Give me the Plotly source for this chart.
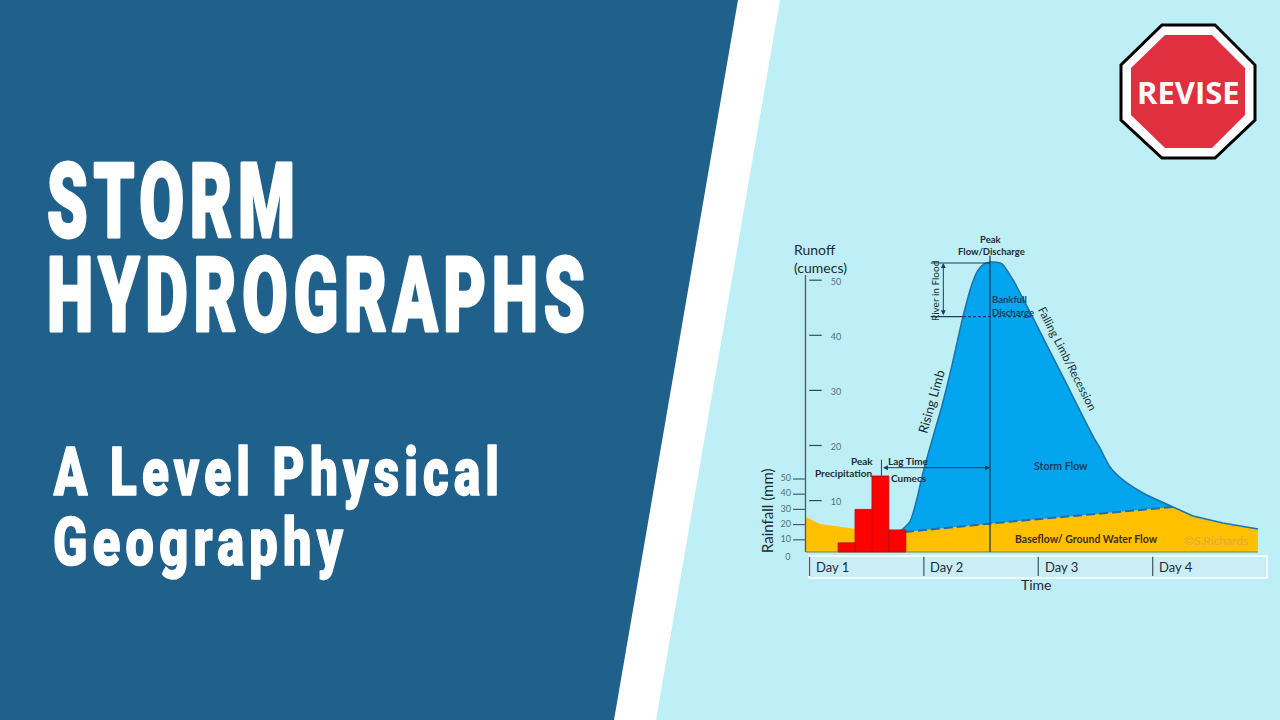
import plotly.graph_objects as go

# ---- data (time in days, runoff in cumecs, rainfall in mm) ----
storm_days = [0.806, 0.878, 0.937, 0.992, 1.097, 1.156, 1.243, 1.342, 1.418, 1.470, 1.530, 1.600, 1.680,
              1.779, 1.954, 2.225, 2.496, 2.539, 2.627, 2.740, 2.915, 3.178]
storm_flow = [4.66, 6.17, 10.11, 15.01, 22.81, 27.04, 34.30, 43.38, 49.13, 51.7, 53.0, 53.3, 53.0,
              50.04, 43.14, 32.07, 21.0, 19.55, 16.10, 13.74, 11.38, 8.84]
base_days = [-0.031, 0.092, 0.407, 0.835, 1.578, 1.753, 3.178, 3.352, 3.614, 3.92]
base_flow = [7.02, 5.75, 4.85, 4.30, 5.80, 6.17, 8.84, 7.2, 5.93, 4.85]
sep_days = [0.835, 1.578, 1.753, 3.178]
sep_flow = [4.30, 5.80, 6.17, 8.84]
rain_days = [0.324, 0.472, 0.620, 0.768]
rain_mm = [8, 30, 52, 16.5]
runoff_ticks = [10, 20, 30, 40, 50]
rain_ticks = [10, 20, 30, 40, 50]
day_starts = [0, 1, 2, 3]
day_labels = ["Day 1", "Day 2", "Day 3", "Day 4"]

W, H = 1280, 720
BLUE, LIGHT = "#20618C", "#BFEFF6"
NAVY, AXIS = "#17405F", "#44606E"
FONT = "Lato"
FLOOR = 0.67          # cumecs level of the chart's ground line
RAIN_FLOOR = 2.0


def px(x):
    return x / W


def py(y):
    return 1 - y / H


def poly(points):
    return "M" + " L".join(f"{px(a):.5f},{py(b):.5f}" for a, b in points) + " Z"


def shape_poly(points, fill, line=None, lw=0):
    return dict(type="path", xref="paper", yref="paper", path=poly(points), fillcolor=fill,
                line=dict(color=line or fill, width=lw), layer="below")


def label(text, x, y, size, color="#1C2B33", angle=0, anchor="center", bold=False, font=FONT, weight=None):
    f = dict(family=font, size=size, color=color)
    if weight:
        f["weight"] = weight
    return dict(text=f"<b>{text}</b>" if bold else text, x=px(x), y=py(y), xref="paper", yref="paper",
                showarrow=False, xanchor=anchor, yanchor="middle", textangle=angle,
                font=f, borderpad=0, borderwidth=0)


fig = go.Figure()

# baseflow area
fig.add_trace(go.Scatter(x=[base_days[0], base_days[-1]], y=[FLOOR, FLOOR], mode="lines",
                         line=dict(color="#8A7A20", width=1.2)))
fig.add_trace(go.Scatter(x=base_days, y=base_flow, mode="lines", fill="tonexty", fillcolor="#FFC000",
                         line=dict(color="#FFC000", width=0)))
# storm flow
fig.add_trace(go.Scatter(x=sep_days, y=sep_flow, mode="lines", line=dict(color="#1F6FA8", width=0)))
fig.add_trace(go.Scatter(x=storm_days, y=storm_flow, mode="lines", fill="tonexty", fillcolor="#03A6EE",
                         line=dict(color="#1B74AE", width=1.6, shape="spline", smoothing=0.7)))
fig.add_trace(go.Scatter(x=sep_days, y=sep_flow, mode="lines",
                         line=dict(color="#1F6FA8", width=2, dash="9px,4px")))
# tail of the falling limb
fig.add_trace(go.Scatter(x=base_days[6:], y=base_flow[6:], mode="lines",
                         line=dict(color="#1B74AE", width=1.6)))

# runoff axis, ticks and labels
fig.add_trace(go.Scatter(x=[-0.035, -0.035], y=[FLOOR, 50.94], mode="lines",
                         line=dict(color="#3F5F6E", width=1.3)))
tx, ty = [], []
for v in runoff_ticks:
    tx += [-0.002, 0.107, None]
    ty += [v, v, None]
fig.add_trace(go.Scatter(x=tx, y=ty, mode="lines", line=dict(color="#23505F", width=1.2)))
fig.add_trace(go.Scatter(x=[0.232] * len(runoff_ticks), y=[v - 0.4 for v in runoff_ticks], mode="text",
                         text=[str(v) for v in runoff_ticks], textposition="middle center",
                         textfont=dict(family=FONT, size=9, color="#4F6F7D")))

# guide lines
fig.add_trace(go.Scatter(x=[1.578, 1.578], y=[FLOOR, 54.5], mode="lines", line=dict(color=NAVY, width=1.3)))
fig.add_trace(go.Scatter(x=[1.06, 1.578], y=[53.12, 53.12], mode="lines", line=dict(color=NAVY, width=1.1)))
fig.add_trace(go.Scatter(x=[1.06, 1.342], y=[43.38, 43.38], mode="lines", line=dict(color=NAVY, width=1.1)))
fig.add_trace(go.Scatter(x=[1.342, 1.954], y=[43.38, 43.38], mode="lines",
                         line=dict(color=NAVY, width=1.1, dash="3px,2px")))
fig.add_trace(go.Scatter(x=[0.629, 0.629], y=[17.4, 14.5], mode="lines", line=dict(color=NAVY, width=1)))

# rainfall
fig.add_trace(go.Bar(x=rain_days, y=[v - RAIN_FLOOR for v in rain_mm], base=RAIN_FLOOR, yaxis="y2", width=0.148,
                     marker=dict(color="#FF0000", line=dict(color="#B01010", width=0.8))))
rx, ry = [], []
for v in rain_ticks:
    rx += [-0.144, -0.04, None]
    ry += [v, v, None]
fig.add_trace(go.Scatter(x=rx, y=ry, yaxis="y2", mode="lines", line=dict(color="#3F5F6E", width=1.2)))
fig.add_trace(go.Scatter(x=[-0.208] * len(rain_ticks), y=rain_ticks, yaxis="y2", mode="text",
                         text=[str(v) for v in rain_ticks], textposition="middle center",
                         textfont=dict(family=FONT, size=9, color="#4F6F7D")))
fig.add_trace(go.Scatter(x=[-0.19], y=[-1.5], yaxis="y2", mode="text", text=["0"], textposition="middle center",
                         textfont=dict(family=FONT, size=9, color="#4F6F7D")))

# day dividers
dx, dy = [], []
for d in day_starts:
    dx += [d, d, None]
    dy += [-0.2, -3.7, None]
fig.add_trace(go.Scatter(x=dx, y=dy, mode="lines", line=dict(color="#4A6270", width=1.3)))

shapes = [
    shape_poly([(0, 0), (W, 0), (W, H), (0, H)], LIGHT),
    shape_poly([(0, 0), (780, 0), (656, H), (0, H)], "#FFFFFF"),
    shape_poly([(0, 0), (738, 0), (614, H), (0, H)], BLUE),
    dict(type="rect", xref="x", yref="y", x0=-0.004, x1=4.0, y0=-0.05, y1=-4.05, fillcolor="#CBEDF5",
         line=dict(color="#FFFFFF", width=1.5), layer="below"),
    dict(type="path", xref="paper", yref="paper",
         path=poly([(1162, 25), (1215, 25), (1255, 65), (1255, 120), (1215, 158), (1162, 158), (1121, 120), (1121, 65)]),
         fillcolor="#FFFFFF", line=dict(color="#000000", width=3)),
    dict(type="path", xref="paper", yref="paper",
         path=poly([(1165, 35), (1212, 35), (1245, 68), (1245, 115), (1212, 148), (1165, 148), (1131, 115), (1131, 68)]),
         fillcolor="#E0303F", line=dict(color="#E0303F", width=0)),
]

annotations = [
    label("STORM", 48, 201, 103, "#FFFFFF", anchor="left", font="Roboto", weight=900),
    label("HYDROGRAPHS", 48, 295, 103, "#FFFFFF", anchor="left", font="Roboto", weight=900),
    label("A Level Physical", 53, 472, 67, "#FFFFFF", anchor="left", font="Roboto", weight=900),
    label("Geography", 53, 542, 67, "#FFFFFF", anchor="left", font="Roboto", weight=900),
    label("REVISE", 1188, 92.5, 31, "#FFFFFF", bold=True, font="Open Sans"),
    label("Runoff", 794, 249, 14, anchor="left"),
    label("(cumecs)", 794, 267, 14, anchor="left"),
    label("Rainfall (mm)", 767, 511, 15, angle=-90),
    label("Peak", 991, 240, 9.5, bold=True),
    label("Flow/Discharge", 991, 252, 9.5, bold=True),
    label("River in Flood", 935, 291, 10, angle=-90),
    label("Bankfull", 992, 299, 9.5, NAVY, anchor="left", bold=True),
    label("Discharge", 992, 312, 9.5, NAVY, anchor="left", bold=True),
    label("Rising Limb", 931, 402, 13, angle=-74),
    label("Falling Limb/Recession", 1068, 358, 11.5, angle=63),
    label("Peak", 862, 461, 10, bold=True),
    label("Precipitation", 844, 473, 10, bold=True),
    label("Lag Time", 908.5, 461, 10, bold=True),
    label("Cumecs", 909, 477.6, 10, bold=True),
    label("Storm Flow", 1061, 466, 10.5, NAVY, bold=True),
    label("Baseflow/ Ground Water Flow", 1014.7, 539, 10.5, "#3A2E10", anchor="left", bold=True),
    label("©S.Richards", 1184, 540, 12, "#E0A93A", anchor="left"),
    label("Time", 1036, 584, 14),
]
for d, name in zip(day_starts, day_labels):
    annotations.append(dict(text=name, x=d + 0.04, y=-2.1, xref="x", yref="y", showarrow=False, xanchor="left",
                            yanchor="middle", font=dict(family=FONT, size=13, color="#1C2B33")))
# double-headed arrows
annotations += [
    dict(x=1.578, y=15.97, ax=0.629, ay=15.97, xref="x", yref="y", axref="x", ayref="y", text="", showarrow=True,
         arrowhead=2, arrowside="end+start", arrowwidth=1, arrowsize=1, arrowcolor=NAVY),
    dict(x=1.17, y=53.12, ax=1.17, ay=43.38, xref="x", yref="y", axref="x", ayref="y", text="", showarrow=True,
         arrowhead=2, arrowside="end+start", arrowwidth=1, arrowsize=1, arrowcolor=NAVY),
]

fig.update_layout(
    width=W, height=H, autosize=False, margin=dict(l=0, r=0, t=0, b=0), showlegend=False,
    paper_bgcolor=LIGHT, plot_bgcolor="rgba(0,0,0,0)", hovermode=False,
    xaxis=dict(domain=[0, 1], range=[-7.076, 4.113], visible=False, fixedrange=True),
    yaxis=dict(domain=[0, 1], range=[-29.82, 100.85], visible=False, fixedrange=True),
    yaxis2=dict(domain=[0, 1], range=[-108.55, 365.13], visible=False, overlaying="y", fixedrange=True),
    shapes=shapes, annotations=annotations,
)

post = """
document.body.style.margin='0';
document.body.style.overflow='hidden';
// [left edge, drawn width, letter spacing, extra stroke]
const fit={'STORM':[47,248,9,3],'HYDROGRAPHS':[47,538,9,3],
           'A Level Physical':[53,446,7,1.5],'Geography':[53,290,7,1.5]};
document.fonts.ready.then(function(){
document.querySelectorAll('.annotation-text').forEach(function(t){
  const f=fit[t.textContent];
  if(!f)return;
  t.style.letterSpacing=f[2]+'px';
  t.style.stroke='#FFFFFF';
  t.style.strokeWidth=f[3]+'px';
  t.style.strokeLinejoin='round';
  const r=t.getBoundingClientRect();
  const s=f[1]/(r.width-f[2]);
  t.style.transformBox='fill-box';
  t.style.transformOrigin='left center';
  t.style.transform='translateX('+(f[0]-r.left)+'px) scaleX('+s+')';
});
});
"""
fig.write_html("out.html", post_script=post, config=dict(displayModeBar=False))
